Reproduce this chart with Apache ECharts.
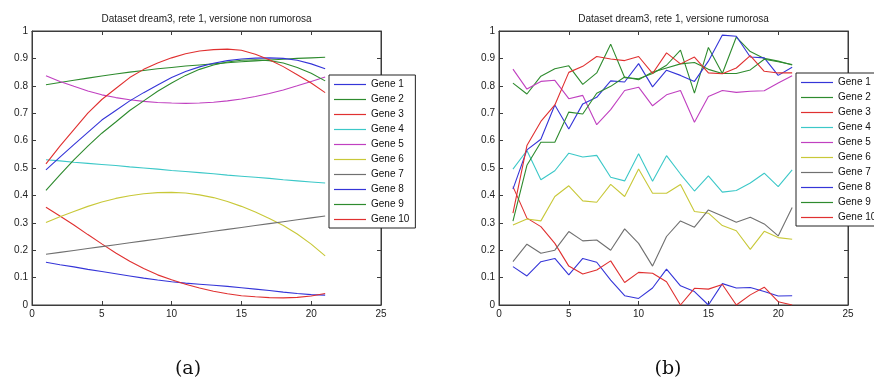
<!DOCTYPE html>
<html>
<head>
<meta charset="utf-8">
<script src="https://cdn.jsdelivr.net/npm/echarts@6/dist/echarts.min.js"></script>
<style>
  html, body { margin: 0; padding: 0; background: #fff; }
  #chart { width: 874px; height: 383px; }
</style>
</head>
<body>
<div id="chart"></div>
<script>
// Time points (x axis) shared by both panels
const timepoints = [1, 2, 3, 4, 5, 6, 7, 8, 9, 10, 11, 12, 13, 14, 15, 16, 17, 18, 19, 20, 21];
const geneNames = ['Gene 1', 'Gene 2', 'Gene 3', 'Gene 4', 'Gene 5', 'Gene 6', 'Gene 7', 'Gene 8', 'Gene 9', 'Gene 10'];
const xTicks = { min: 0, max: 25, interval: 5 };
const yTicks = { min: 0, max: 1, interval: 0.1 };

// Panel (a): noise-free expression profiles
const cleanGene1  = [0.156, 0.147, 0.139, 0.130, 0.122, 0.114, 0.106, 0.098, 0.091, 0.085, 0.080, 0.076, 0.072, 0.068, 0.063, 0.058, 0.053, 0.047, 0.042, 0.038, 0.036];
const cleanGene2  = [0.804, 0.812, 0.820, 0.828, 0.836, 0.843, 0.850, 0.856, 0.862, 0.867, 0.872, 0.876, 0.880, 0.884, 0.888, 0.891, 0.894, 0.897, 0.900, 0.902, 0.904];
const cleanGene3  = [0.357, 0.325, 0.292, 0.257, 0.223, 0.190, 0.160, 0.133, 0.110, 0.092, 0.076, 0.062, 0.050, 0.041, 0.034, 0.030, 0.027, 0.026, 0.028, 0.033, 0.042];
const cleanGene4  = [0.530, 0.526, 0.521, 0.517, 0.513, 0.509, 0.504, 0.500, 0.496, 0.491, 0.487, 0.483, 0.479, 0.474, 0.470, 0.466, 0.462, 0.457, 0.453, 0.449, 0.445];
const cleanGene5  = [0.837, 0.816, 0.798, 0.781, 0.767, 0.757, 0.749, 0.743, 0.739, 0.737, 0.736, 0.737, 0.740, 0.745, 0.752, 0.761, 0.772, 0.785, 0.800, 0.816, 0.832];
const cleanGene6  = [0.301, 0.322, 0.341, 0.360, 0.376, 0.389, 0.399, 0.406, 0.410, 0.411, 0.409, 0.402, 0.392, 0.378, 0.360, 0.339, 0.316, 0.290, 0.259, 0.222, 0.179];
const cleanGene7  = [0.185, 0.192, 0.199, 0.206, 0.213, 0.220, 0.227, 0.234, 0.241, 0.248, 0.255, 0.262, 0.269, 0.276, 0.283, 0.290, 0.297, 0.304, 0.311, 0.318, 0.325];
const cleanGene8  = [0.493, 0.540, 0.585, 0.630, 0.675, 0.710, 0.745, 0.775, 0.803, 0.830, 0.852, 0.869, 0.882, 0.892, 0.898, 0.901, 0.902, 0.900, 0.893, 0.880, 0.862];
const cleanGene9  = [0.418, 0.475, 0.530, 0.580, 0.627, 0.668, 0.710, 0.745, 0.780, 0.810, 0.838, 0.860, 0.876, 0.887, 0.893, 0.895, 0.892, 0.883, 0.867, 0.846, 0.818];
const cleanGene10 = [0.515, 0.580, 0.640, 0.700, 0.750, 0.790, 0.830, 0.860, 0.883, 0.902, 0.917, 0.927, 0.932, 0.934, 0.930, 0.915, 0.895, 0.870, 0.840, 0.810, 0.775];

// Panel (b): noisy expression profiles
const noisyGene1  = [0.140, 0.106, 0.158, 0.170, 0.110, 0.170, 0.156, 0.091, 0.034, 0.024, 0.062, 0.131, 0.070, 0.049, 0.000, 0.078, 0.062, 0.064, 0.049, 0.033, 0.034];
const noisyGene2  = [0.810, 0.770, 0.835, 0.862, 0.873, 0.805, 0.847, 0.952, 0.830, 0.826, 0.845, 0.875, 0.930, 0.773, 0.940, 0.845, 0.978, 0.925, 0.900, 0.890, 0.876];
const noisyGene3  = [0.432, 0.317, 0.286, 0.225, 0.142, 0.113, 0.128, 0.161, 0.082, 0.119, 0.116, 0.085, 0.000, 0.061, 0.058, 0.075, 0.000, 0.037, 0.065, 0.012, 0.000];
const noisyGene4  = [0.496, 0.564, 0.457, 0.490, 0.554, 0.540, 0.546, 0.466, 0.453, 0.552, 0.452, 0.545, 0.478, 0.416, 0.471, 0.412, 0.418, 0.445, 0.481, 0.432, 0.493];
const noisyGene5  = [0.861, 0.788, 0.816, 0.820, 0.753, 0.765, 0.658, 0.713, 0.783, 0.795, 0.727, 0.767, 0.783, 0.667, 0.761, 0.783, 0.776, 0.780, 0.782, 0.810, 0.837];
const noisyGene6  = [0.292, 0.314, 0.307, 0.396, 0.435, 0.380, 0.375, 0.440, 0.396, 0.496, 0.408, 0.408, 0.440, 0.341, 0.335, 0.290, 0.271, 0.203, 0.269, 0.246, 0.240];
const noisyGene7  = [0.158, 0.222, 0.189, 0.200, 0.268, 0.234, 0.237, 0.200, 0.278, 0.225, 0.142, 0.250, 0.307, 0.284, 0.347, 0.325, 0.302, 0.320, 0.296, 0.252, 0.356];
const noisyGene8  = [0.423, 0.566, 0.605, 0.730, 0.642, 0.734, 0.758, 0.818, 0.814, 0.881, 0.796, 0.857, 0.838, 0.816, 0.890, 0.985, 0.981, 0.905, 0.902, 0.838, 0.868];
const noisyGene9  = [0.306, 0.510, 0.594, 0.594, 0.704, 0.697, 0.773, 0.798, 0.832, 0.822, 0.850, 0.865, 0.880, 0.885, 0.860, 0.845, 0.845, 0.858, 0.897, 0.888, 0.878];
const noisyGene10 = [0.335, 0.582, 0.670, 0.730, 0.849, 0.871, 0.907, 0.898, 0.892, 0.907, 0.845, 0.920, 0.880, 0.905, 0.847, 0.844, 0.865, 0.910, 0.853, 0.847, 0.847];

const cleanProfiles = [cleanGene1, cleanGene2, cleanGene3, cleanGene4, cleanGene5, cleanGene6, cleanGene7, cleanGene8, cleanGene9, cleanGene10];
const noisyProfiles = [noisyGene1, noisyGene2, noisyGene3, noisyGene4, noisyGene5, noisyGene6, noisyGene7, noisyGene8, noisyGene9, noisyGene10];

const titles = ['Dataset dream3, rete 1, versione non rumorosa', 'Dataset dream3, rete 1, versione rumorosa'];
const captions = ['(a)', '(b)'];

// MATLAB-like line colour cycle
const lineColors = ['#3535d8', '#2e8b2e', '#e03030', '#3cc8c8', '#c040c0', '#c8c838', '#707070', '#3535d8', '#2e8b2e', '#e03030'];

const FONT = 'Liberation Sans, Arial, sans-serif';
const AXIS_COLOR = '#3c3c3c';

const panels = [
  { left: 32, top: 31, width: 349, height: 274, captionX: 188 },
  { left: 499, top: 31, width: 349, height: 274, captionX: 668 }
];

const chart = echarts.init(document.getElementById('chart'), null, { renderer: 'canvas' });

const grids = panels.map(p => ({
  left: p.left, top: p.top, width: p.width, height: p.height,
  show: true, borderColor: AXIS_COLOR, borderWidth: 1, backgroundColor: '#fff'
}));

function makeXAxis(gridIndex, position, showLabels) {
  return {
    type: 'value', gridIndex, position,
    min: xTicks.min, max: xTicks.max, interval: xTicks.interval,
    axisLine: { show: true, onZero: false, lineStyle: { color: AXIS_COLOR, width: 1 } },
    axisTick: { show: true, inside: true, length: 4, lineStyle: { color: AXIS_COLOR } },
    axisLabel: { show: showLabels, margin: 4, fontFamily: FONT, fontSize: 10, color: '#222' },
    splitLine: { show: false }
  };
}
function makeYAxis(gridIndex, position, showLabels) {
  return {
    type: 'value', gridIndex, position,
    min: yTicks.min, max: yTicks.max, interval: yTicks.interval,
    axisLine: { show: true, onZero: false, lineStyle: { color: AXIS_COLOR, width: 1 } },
    axisTick: { show: true, inside: true, length: 4, lineStyle: { color: AXIS_COLOR } },
    axisLabel: { show: showLabels, margin: 4, fontFamily: FONT, fontSize: 10, color: '#222' },
    splitLine: { show: false }
  };
}

const xAxes = [], yAxes = [];
panels.forEach((p, i) => {
  xAxes.push(makeXAxis(i, 'bottom', true));
  xAxes.push(makeXAxis(i, 'top', false));
  yAxes.push(makeYAxis(i, 'left', true));
  yAxes.push(makeYAxis(i, 'right', false));
});

const series = [];
[cleanProfiles, noisyProfiles].forEach((profiles, panelIndex) => {
  profiles.forEach((values, g) => {
    series.push({
      type: 'line',
      name: geneNames[g],
      xAxisIndex: panelIndex * 2,
      yAxisIndex: panelIndex * 2,
      data: timepoints.map((t, k) => [t, values[k]]),
      showSymbol: false,
      symbol: 'none',
      smooth: false,
      animation: false,
      lineStyle: { width: 1.1, color: lineColors[g] },
      itemStyle: { color: lineColors[g] },
      emphasis: { disabled: true }
    });
  });
});

const legendBase = {
  orient: 'vertical',
  data: geneNames,
  icon: 'rect',
  itemWidth: 32,
  itemHeight: 1.2,
  itemGap: 2,
  backgroundColor: '#fff',
  borderColor: '#222',
  borderWidth: 1,
  borderRadius: 0,
  padding: [3, 6, 2, 5],
  selectedMode: false,
  textStyle: { fontFamily: FONT, fontSize: 10, color: '#111', lineHeight: 13 }
};

const graphics = [];
panels.forEach((p, i) => {
  graphics.push({
    type: 'text',
    x: p.left + p.width / 2, y: 14,
    style: { text: titles[i], font: '10px ' + FONT, fill: '#222', textAlign: 'center' }
  });
  graphics.push({
    type: 'text',
    x: p.captionX, y: 360,
    style: { text: captions[i], font: '19px "DejaVu Serif", "Liberation Serif", serif', fill: '#111', textAlign: 'center' }
  });
});

chart.setOption({
  animation: false,
  backgroundColor: '#fff',
  grid: grids,
  xAxis: xAxes,
  yAxis: yAxes,
  series,
  legend: [
    Object.assign({}, legendBase, { left: 329, top: 75 }),
    Object.assign({}, legendBase, { left: 796, top: 73 })
  ],
  graphic: graphics
});
</script>
</body>
</html>
